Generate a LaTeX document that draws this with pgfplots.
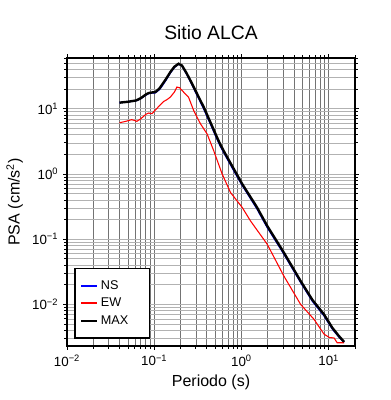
\documentclass[border=0pt]{standalone}
\usepackage{fontspec}
\setmainfont{Liberation Sans}
\usepackage{pgfplots}
\pgfplotsset{compat=1.18}
\begin{document}
\begin{tikzpicture}
\begin{axis}[
  scale only axis, width=216pt, height=216pt,
  xmode=log, ymode=log,
  xmin=0.01, xmax=20, ymin=0.0023, ymax=60,
  xtick={0.01,0.1,1,10},
  xticklabels={10\textsuperscript{−2},10\textsuperscript{−1},10\textsuperscript{0},10\textsuperscript{1}},
  ytick={0.01,0.1,1,10},
  yticklabels={10\textsuperscript{−2},10\textsuperscript{−1},10\textsuperscript{0},10\textsuperscript{1}},
  minor xtick={0.02,0.03,0.04,0.05,0.06,0.07,0.08,0.09,0.2,0.3,0.4,0.5,0.6,0.7,0.8,0.9,2,3,4,5,6,7,8,9,20},
  minor ytick={0.003,0.004,0.005,0.006,0.007,0.008,0.009,0.02,0.03,0.04,0.05,0.06,0.07,0.08,0.09,0.2,0.3,0.4,0.5,0.6,0.7,0.8,0.9,2,3,4,5,6,7,8,9,20,30,40,50,60},
  tick align=outside,
  major tick length=3pt, minor tick length=2pt,
  tick style={black, line width=0.6pt},
  grid=both,
  major x grid style={black!55, line width=0.45pt},
  minor x grid style={black!55, line width=0.45pt},
  major y grid style={black!30, line width=0.45pt},
  minor y grid style={black!30, line width=0.45pt},
  axis line style={line width=1.2pt},
  tick label style={font=\fontsize{10}{12}\selectfont},
  title={Sitio ALCA},
  title style={font=\fontsize{14.5}{16}\selectfont, yshift=4pt},
  xlabel={Periodo (s)},
  ylabel={PSA (cm/s\textsuperscript{2})},
  label style={font=\fontsize{12}{14}\selectfont},
  legend style={at={(0.025,0.025)}, anchor=south west, draw=black, line width=1.2pt,
    font=\fontsize{9.5}{11}\selectfont, inner xsep=4pt, inner ysep=7pt, row sep=1pt,
    cells={anchor=west}},
  legend image code/.code={\draw[#1, line width=1.4pt] (0pt,0pt) -- (12pt,0pt);},
]
\coordinate (bl) at (rel axis cs:0,0);
\coordinate (tr) at (rel axis cs:1,1);
\addplot[blue, line width=1.1pt] coordinates {
(0.040,12.4)(0.050,12.8)(0.062,13.3)(0.070,14.3)(0.080,16.2)(0.086,17.1)(0.095,17.5)(0.103,17.6)
(0.115,19.8)(0.123,22.4)(0.135,27)(0.153,35.5)(0.170,43)(0.190,48.5)(0.208,45.5)(0.235,34)
(0.271,23.3)(0.32,14.8)(0.369,10.0)(0.45,5.5)(0.526,3.4)(0.574,2.65)(0.65,1.95)(0.8,1.18)
(1.02,0.67)(1.5,0.295)(1.97,0.152)(3,0.062)(4.76,0.0218)(6.5,0.0112)(8.83,0.0067)(11,0.0042)
(13,0.0032)(15,0.00262)};
\addlegendentry{NS}
\addplot[red, line width=0.8pt] coordinates {
(0.040,6.1)(0.047,6.4)(0.055,6.8)(0.060,6.6)(0.063,6.4)(0.070,7.0)(0.080,8.2)(0.086,8.6)
(0.094,8.4)(0.105,9.8)(0.115,11.2)(0.128,12.9)(0.140,13.8)(0.153,15.1)(0.170,18)(0.182,21.5)
(0.195,21)(0.217,18)(0.247,15.1)(0.283,9.4)(0.338,5.9)(0.404,4.1)(0.48,2.28)(0.6,1.0)
(0.748,0.52)(1.02,0.306)(1.27,0.19)(1.97,0.0838)(3.06,0.0272)(4.76,0.01)(6.78,0.0059)
(8.83,0.0035)(10.2,0.0031)(11.5,0.00306)(12.5,0.00258)(15,0.00258)};
\addlegendentry{EW}
\addplot[black, line width=1.8pt] coordinates {
(0.040,12.4)(0.050,12.8)(0.062,13.4)(0.070,14.5)(0.080,16.5)(0.086,17.4)(0.095,17.8)(0.103,18.0)
(0.115,20.5)(0.123,23.4)(0.135,28)(0.153,36.5)(0.170,44)(0.190,49)(0.208,46)(0.235,35)
(0.271,24.3)(0.32,15.5)(0.369,10.6)(0.45,5.8)(0.526,3.6)(0.574,2.8)(0.65,2.05)(0.8,1.25)
(1.02,0.70)(1.5,0.31)(1.97,0.16)(3,0.065)(4.76,0.0228)(6.5,0.0117)(8.83,0.0070)(11,0.00437)
(13,0.0033)(15,0.00266)};
\addlegendentry{MAX\hspace*{10pt}}
\end{axis}
\pgfresetboundingbox
\path ([xshift=-50.25pt,yshift=-40.5pt]bl) rectangle ([xshift=26.25pt,yshift=43.5pt]tr);
\end{tikzpicture}
\end{document}
